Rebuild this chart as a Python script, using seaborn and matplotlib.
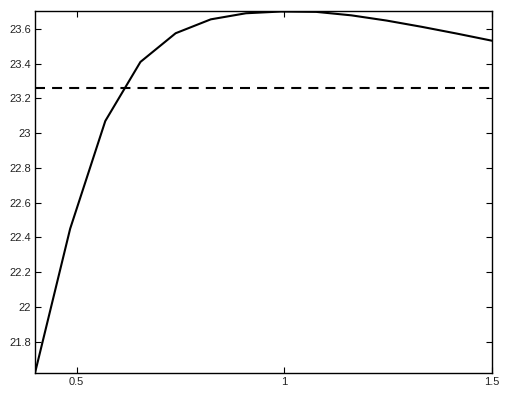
import matplotlib
matplotlib.use("Agg")
import matplotlib.pyplot as plt
import seaborn as sns
import pandas as pd
from matplotlib.ticker import FuncFormatter

x_vals = [0.4, 0.4846, 0.5692, 0.6538, 0.7385, 0.8231, 0.9077, 0.9923, 1.0769, 1.1615, 1.2462, 1.3308, 1.4154, 1.5]
y_vals = [21.62, 22.45, 23.07, 23.41, 23.575, 23.655, 23.69, 23.70, 23.698, 23.678, 23.648, 23.612, 23.573, 23.532]
ref_level = 23.26
x_ticks = [0.5, 1, 1.5]
y_ticks = [21.8, 22.0, 22.2, 22.4, 22.6, 22.8, 23.0, 23.2, 23.4, 23.6]

sns.set_style("white")
plt.rcParams['font.family'] = ['Liberation Sans', 'DejaVu Sans']

fig = plt.figure(figsize=(5.17, 3.93), dpi=100)
ax = fig.add_axes([35/517, 1-373/393, (492-35)/517, (373-11)/393])

df = pd.DataFrame({"x": x_vals, "y": y_vals})
sns.lineplot(data=df, x="x", y="y", ax=ax, color="black", linewidth=1.5, sort=False)
ax.axhline(ref_level, color="black", linestyle=(0, (4.8, 3.4)), linewidth=1.5)

ax.set_xlim(0.4, 1.5)
ax.set_ylim(21.62, 23.703)
ax.set_xticks(x_ticks)
ax.set_yticks(y_ticks)
fmt = FuncFormatter(lambda v, p: f"{v:g}")
ax.xaxis.set_major_formatter(fmt)
ax.yaxis.set_major_formatter(fmt)
ax.set_xlabel("")
ax.set_ylabel("")
ax.tick_params(direction="in", length=4, width=0.8, labelsize=8, colors="black",
               labelcolor="#222222", top=True, right=True, bottom=True, left=True, pad=3)
for s in ax.spines.values():
    s.set_visible(True)
    s.set_color("black")
    s.set_linewidth(1.0)

fig.savefig("out.png", dpi=100)
